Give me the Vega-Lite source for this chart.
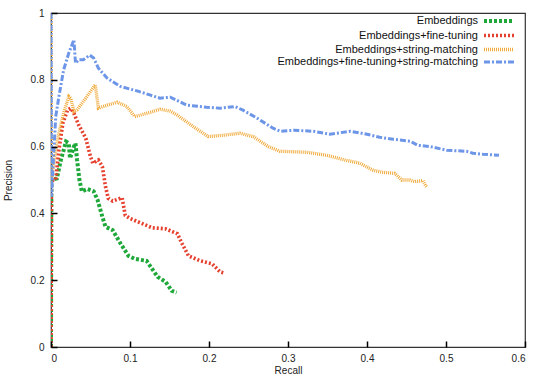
{
  "$schema": "https://vega.github.io/schema/vega-lite/v6.json",
  "width": 474,
  "height": 334,
  "autosize": {"type": "none"},
  "padding": {"left": 51, "top": 13, "right": 20, "bottom": 35},
  "config": {
    "font": "Liberation Sans",
    "view": {"stroke": "#333333", "strokeWidth": 1.2},
    "legend": {
      "labelFont": "Liberation Sans",
      "labelFontSize": 11,
      "labelColor": "#111111",
      "labelLimit": 0,
      "rowPadding": -1.5
    }
  },
  "data": {
    "values": [
      {"series": "Embeddings", "recall": 0, "precision": 0},
      {"series": "Embeddings", "recall": 0.0005, "precision": 0.5},
      {"series": "Embeddings", "recall": 0.0075, "precision": 0.505},
      {"series": "Embeddings", "recall": 0.0125, "precision": 0.56},
      {"series": "Embeddings", "recall": 0.019, "precision": 0.615},
      {"series": "Embeddings", "recall": 0.0225, "precision": 0.61},
      {"series": "Embeddings", "recall": 0.024, "precision": 0.565},
      {"series": "Embeddings", "recall": 0.027, "precision": 0.585},
      {"series": "Embeddings", "recall": 0.029, "precision": 0.6},
      {"series": "Embeddings", "recall": 0.031, "precision": 0.61},
      {"series": "Embeddings", "recall": 0.033, "precision": 0.56},
      {"series": "Embeddings", "recall": 0.036, "precision": 0.5},
      {"series": "Embeddings", "recall": 0.039, "precision": 0.466},
      {"series": "Embeddings", "recall": 0.046, "precision": 0.473},
      {"series": "Embeddings", "recall": 0.054, "precision": 0.466},
      {"series": "Embeddings", "recall": 0.059, "precision": 0.44},
      {"series": "Embeddings", "recall": 0.065, "precision": 0.39},
      {"series": "Embeddings", "recall": 0.069, "precision": 0.36},
      {"series": "Embeddings", "recall": 0.078, "precision": 0.35},
      {"series": "Embeddings", "recall": 0.088, "precision": 0.31},
      {"series": "Embeddings", "recall": 0.098, "precision": 0.273},
      {"series": "Embeddings", "recall": 0.106, "precision": 0.264},
      {"series": "Embeddings", "recall": 0.121, "precision": 0.258},
      {"series": "Embeddings", "recall": 0.128, "precision": 0.234},
      {"series": "Embeddings", "recall": 0.135, "precision": 0.21},
      {"series": "Embeddings", "recall": 0.145, "precision": 0.195},
      {"series": "Embeddings", "recall": 0.153, "precision": 0.168},
      {"series": "Embeddings", "recall": 0.159, "precision": 0.163},

      {"series": "Embeddings+fine-tuning", "recall": 0, "precision": 0},
      {"series": "Embeddings+fine-tuning", "recall": 0.0005, "precision": 0.5},
      {"series": "Embeddings+fine-tuning", "recall": 0.006, "precision": 0.5},
      {"series": "Embeddings+fine-tuning", "recall": 0.01, "precision": 0.59},
      {"series": "Embeddings+fine-tuning", "recall": 0.015, "precision": 0.67},
      {"series": "Embeddings+fine-tuning", "recall": 0.021, "precision": 0.71},
      {"series": "Embeddings+fine-tuning", "recall": 0.025, "precision": 0.715},
      {"series": "Embeddings+fine-tuning", "recall": 0.029, "precision": 0.7},
      {"series": "Embeddings+fine-tuning", "recall": 0.035, "precision": 0.665},
      {"series": "Embeddings+fine-tuning", "recall": 0.044, "precision": 0.625},
      {"series": "Embeddings+fine-tuning", "recall": 0.05, "precision": 0.57},
      {"series": "Embeddings+fine-tuning", "recall": 0.053, "precision": 0.55},
      {"series": "Embeddings+fine-tuning", "recall": 0.06, "precision": 0.56},
      {"series": "Embeddings+fine-tuning", "recall": 0.065, "precision": 0.54},
      {"series": "Embeddings+fine-tuning", "recall": 0.069, "precision": 0.48},
      {"series": "Embeddings+fine-tuning", "recall": 0.0725, "precision": 0.445},
      {"series": "Embeddings+fine-tuning", "recall": 0.078, "precision": 0.437},
      {"series": "Embeddings+fine-tuning", "recall": 0.09, "precision": 0.447},
      {"series": "Embeddings+fine-tuning", "recall": 0.094, "precision": 0.394},
      {"series": "Embeddings+fine-tuning", "recall": 0.1, "precision": 0.385},
      {"series": "Embeddings+fine-tuning", "recall": 0.115, "precision": 0.37},
      {"series": "Embeddings+fine-tuning", "recall": 0.128, "precision": 0.357},
      {"series": "Embeddings+fine-tuning", "recall": 0.145, "precision": 0.354},
      {"series": "Embeddings+fine-tuning", "recall": 0.16, "precision": 0.339},
      {"series": "Embeddings+fine-tuning", "recall": 0.166, "precision": 0.309},
      {"series": "Embeddings+fine-tuning", "recall": 0.174, "precision": 0.273},
      {"series": "Embeddings+fine-tuning", "recall": 0.189, "precision": 0.258},
      {"series": "Embeddings+fine-tuning", "recall": 0.204, "precision": 0.249},
      {"series": "Embeddings+fine-tuning", "recall": 0.214, "precision": 0.225},
      {"series": "Embeddings+fine-tuning", "recall": 0.219, "precision": 0.222},

      {"series": "Embeddings+string-matching", "recall": 0, "precision": 1},
      {"series": "Embeddings+string-matching", "recall": 0.0005, "precision": 0.5},
      {"series": "Embeddings+string-matching", "recall": 0.006, "precision": 0.59},
      {"series": "Embeddings+string-matching", "recall": 0.01, "precision": 0.64},
      {"series": "Embeddings+string-matching", "recall": 0.016, "precision": 0.7},
      {"series": "Embeddings+string-matching", "recall": 0.0225, "precision": 0.75},
      {"series": "Embeddings+string-matching", "recall": 0.025, "precision": 0.745},
      {"series": "Embeddings+string-matching", "recall": 0.029, "precision": 0.705},
      {"series": "Embeddings+string-matching", "recall": 0.033, "precision": 0.71},
      {"series": "Embeddings+string-matching", "recall": 0.044, "precision": 0.745},
      {"series": "Embeddings+string-matching", "recall": 0.056, "precision": 0.785},
      {"series": "Embeddings+string-matching", "recall": 0.06, "precision": 0.715},
      {"series": "Embeddings+string-matching", "recall": 0.071, "precision": 0.724},
      {"series": "Embeddings+string-matching", "recall": 0.084, "precision": 0.733},
      {"series": "Embeddings+string-matching", "recall": 0.096, "precision": 0.72},
      {"series": "Embeddings+string-matching", "recall": 0.106, "precision": 0.69},
      {"series": "Embeddings+string-matching", "recall": 0.122, "precision": 0.7},
      {"series": "Embeddings+string-matching", "recall": 0.138, "precision": 0.712},
      {"series": "Embeddings+string-matching", "recall": 0.151, "precision": 0.706},
      {"series": "Embeddings+string-matching", "recall": 0.16, "precision": 0.694},
      {"series": "Embeddings+string-matching", "recall": 0.18, "precision": 0.66},
      {"series": "Embeddings+string-matching", "recall": 0.199, "precision": 0.63},
      {"series": "Embeddings+string-matching", "recall": 0.218, "precision": 0.634},
      {"series": "Embeddings+string-matching", "recall": 0.239, "precision": 0.64},
      {"series": "Embeddings+string-matching", "recall": 0.256, "precision": 0.63},
      {"series": "Embeddings+string-matching", "recall": 0.275, "precision": 0.6},
      {"series": "Embeddings+string-matching", "recall": 0.29, "precision": 0.586},
      {"series": "Embeddings+string-matching", "recall": 0.324, "precision": 0.583},
      {"series": "Embeddings+string-matching", "recall": 0.349, "precision": 0.574},
      {"series": "Embeddings+string-matching", "recall": 0.374, "precision": 0.559},
      {"series": "Embeddings+string-matching", "recall": 0.391, "precision": 0.55},
      {"series": "Embeddings+string-matching", "recall": 0.408, "precision": 0.529},
      {"series": "Embeddings+string-matching", "recall": 0.42, "precision": 0.523},
      {"series": "Embeddings+string-matching", "recall": 0.435, "precision": 0.52},
      {"series": "Embeddings+string-matching", "recall": 0.444, "precision": 0.5},
      {"series": "Embeddings+string-matching", "recall": 0.454, "precision": 0.5},
      {"series": "Embeddings+string-matching", "recall": 0.46, "precision": 0.495},
      {"series": "Embeddings+string-matching", "recall": 0.471, "precision": 0.498},
      {"series": "Embeddings+string-matching", "recall": 0.474, "precision": 0.484},
      {"series": "Embeddings+string-matching", "recall": 0.476, "precision": 0.478},

      {"series": "Embeddings+fine-tuning+string-matching", "recall": 0, "precision": 1},
      {"series": "Embeddings+fine-tuning+string-matching", "recall": 0.0005, "precision": 0.45},
      {"series": "Embeddings+fine-tuning+string-matching", "recall": 0.006, "precision": 0.69},
      {"series": "Embeddings+fine-tuning+string-matching", "recall": 0.01, "precision": 0.75},
      {"series": "Embeddings+fine-tuning+string-matching", "recall": 0.016, "precision": 0.83},
      {"series": "Embeddings+fine-tuning+string-matching", "recall": 0.0225, "precision": 0.88},
      {"series": "Embeddings+fine-tuning+string-matching", "recall": 0.029, "precision": 0.92},
      {"series": "Embeddings+fine-tuning+string-matching", "recall": 0.031, "precision": 0.85},
      {"series": "Embeddings+fine-tuning+string-matching", "recall": 0.035, "precision": 0.86},
      {"series": "Embeddings+fine-tuning+string-matching", "recall": 0.041, "precision": 0.86},
      {"series": "Embeddings+fine-tuning+string-matching", "recall": 0.049, "precision": 0.874},
      {"series": "Embeddings+fine-tuning+string-matching", "recall": 0.054, "precision": 0.865},
      {"series": "Embeddings+fine-tuning+string-matching", "recall": 0.06, "precision": 0.835},
      {"series": "Embeddings+fine-tuning+string-matching", "recall": 0.071, "precision": 0.805},
      {"series": "Embeddings+fine-tuning+string-matching", "recall": 0.088, "precision": 0.78},
      {"series": "Embeddings+fine-tuning+string-matching", "recall": 0.11, "precision": 0.766},
      {"series": "Embeddings+fine-tuning+string-matching", "recall": 0.126, "precision": 0.754},
      {"series": "Embeddings+fine-tuning+string-matching", "recall": 0.138, "precision": 0.745},
      {"series": "Embeddings+fine-tuning+string-matching", "recall": 0.151, "precision": 0.748},
      {"series": "Embeddings+fine-tuning+string-matching", "recall": 0.172, "precision": 0.724},
      {"series": "Embeddings+fine-tuning+string-matching", "recall": 0.197, "precision": 0.718},
      {"series": "Embeddings+fine-tuning+string-matching", "recall": 0.214, "precision": 0.715},
      {"series": "Embeddings+fine-tuning+string-matching", "recall": 0.233, "precision": 0.72},
      {"series": "Embeddings+fine-tuning+string-matching", "recall": 0.243, "precision": 0.709},
      {"series": "Embeddings+fine-tuning+string-matching", "recall": 0.261, "precision": 0.685},
      {"series": "Embeddings+fine-tuning+string-matching", "recall": 0.281, "precision": 0.655},
      {"series": "Embeddings+fine-tuning+string-matching", "recall": 0.29, "precision": 0.646},
      {"series": "Embeddings+fine-tuning+string-matching", "recall": 0.307, "precision": 0.649},
      {"series": "Embeddings+fine-tuning+string-matching", "recall": 0.332, "precision": 0.646},
      {"series": "Embeddings+fine-tuning+string-matching", "recall": 0.353, "precision": 0.637},
      {"series": "Embeddings+fine-tuning+string-matching", "recall": 0.379, "precision": 0.646},
      {"series": "Embeddings+fine-tuning+string-matching", "recall": 0.4, "precision": 0.637},
      {"series": "Embeddings+fine-tuning+string-matching", "recall": 0.416, "precision": 0.628},
      {"series": "Embeddings+fine-tuning+string-matching", "recall": 0.433, "precision": 0.622},
      {"series": "Embeddings+fine-tuning+string-matching", "recall": 0.455, "precision": 0.616},
      {"series": "Embeddings+fine-tuning+string-matching", "recall": 0.464, "precision": 0.604},
      {"series": "Embeddings+fine-tuning+string-matching", "recall": 0.48, "precision": 0.6},
      {"series": "Embeddings+fine-tuning+string-matching", "recall": 0.501, "precision": 0.589},
      {"series": "Embeddings+fine-tuning+string-matching", "recall": 0.526, "precision": 0.586},
      {"series": "Embeddings+fine-tuning+string-matching", "recall": 0.534, "precision": 0.58},
      {"series": "Embeddings+fine-tuning+string-matching", "recall": 0.547, "precision": 0.577},
      {"series": "Embeddings+fine-tuning+string-matching", "recall": 0.567, "precision": 0.574}
    ]
  },
  "mark": {"type": "line", "clip": true, "strokeCap": "butt"},
  "encoding": {
    "x": {
      "field": "recall", "type": "quantitative",
      "scale": {"domain": [0, 0.6], "nice": false, "zero": false},
      "axis": {
        "orient": "bottom", "title": "Recall", "tickCount": 6, "format": "~g",
        "domain": false, "grid": false, "ticks": true, "tickSize": -6, "tickWidth": 1.5, "tickColor": "#000000", "tickOpacity": 1, "zindex": 1,
        "labelPadding": 12, "labelFont": "Liberation Sans", "labelFontSize": 10, "labelColor": "#222222",
        "titlePadding": 2, "titleFont": "Liberation Sans", "titleFontSize": 10, "titleFontWeight": "normal", "titleColor": "#222222"
      }
    },
    "y": {
      "field": "precision", "type": "quantitative",
      "scale": {"domain": [0, 1], "nice": false},
      "axis": {
        "orient": "left", "title": "Precision", "tickCount": 5, "format": "~g",
        "domain": false, "grid": false, "ticks": true, "tickSize": -6, "tickWidth": 1.5, "tickColor": "#000000", "tickOpacity": 1, "zindex": 1,
        "labelPadding": 13, "labelFont": "Liberation Sans", "labelFontSize": 10, "labelColor": "#222222",
        "titlePadding": 17, "titleFont": "Liberation Sans", "titleFontSize": 10, "titleFontWeight": "normal", "titleColor": "#222222"
      }
    },
    "color": {
      "field": "series", "type": "nominal",
      "scale": {
        "domain": ["Embeddings", "Embeddings+fine-tuning", "Embeddings+string-matching", "Embeddings+fine-tuning+string-matching"],
        "range": ["#1fa83a", "#e6402e", "#f0a93a", "#6d96e8"]
      },
      "legend": {
        "orient": "none", "legendX": 442, "legendY": 2, "title": null,
        "symbolType": "M-3.87,0H3.87", "symbolSize": 60,
        "labelAlign": "right", "labelOffset": -27,
        "rowPadding": -1.5, "padding": 0
      }
    },
    "strokeDash": {
      "field": "series", "type": "nominal",
      "scale": {
        "domain": ["Embeddings", "Embeddings+fine-tuning", "Embeddings+string-matching", "Embeddings+fine-tuning+string-matching"],
        "range": [[3, 2], [2, 2], [1, 1], [6, 2, 2, 2]]
      },
      "legend": {
        "orient": "none", "legendX": 442, "legendY": 2, "title": null,
        "symbolType": "M-3.87,0H3.87", "symbolSize": 60,
        "labelAlign": "right", "labelOffset": -27,
        "rowPadding": -1.5, "padding": 0
      }
    },
    "strokeWidth": {
      "field": "series", "type": "nominal",
      "scale": {
        "domain": ["Embeddings", "Embeddings+fine-tuning", "Embeddings+string-matching", "Embeddings+fine-tuning+string-matching"],
        "range": [4, 3, 3, 4]
      },
      "legend": {
        "orient": "none", "legendX": 442, "legendY": 2, "title": null,
        "symbolType": "M-3.87,0H3.87", "symbolSize": 60,
        "labelAlign": "right", "labelOffset": -27,
        "rowPadding": -1.5, "padding": 0
      }
    }
  }
}
